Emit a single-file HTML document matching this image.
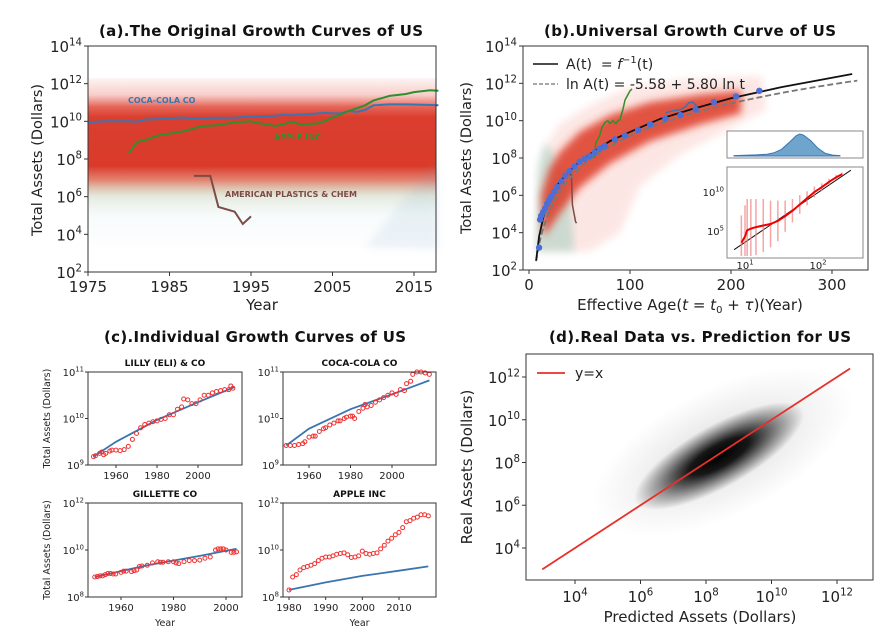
<!DOCTYPE html>
<html><head><meta charset="utf-8"><style>
html,body{margin:0;padding:0;background:#fff;}
svg{display:block;font-family:"DejaVu Sans","Liberation Sans",sans-serif;}
</style></head><body>
<svg id="fig" width="885" height="634" viewBox="0 0 885 634">
<defs>
<linearGradient id="gA" x1="0" y1="0" x2="0" y2="1">
<stop offset="0" stop-color="#e03a2a" stop-opacity="0.05"/>
<stop offset="0.1" stop-color="#e03a2a" stop-opacity="0.25"/>
<stop offset="0.17" stop-color="#dc3222" stop-opacity="0.75"/>
<stop offset="0.23" stop-color="#d8301f" stop-opacity="0.93"/>
<stop offset="0.52" stop-color="#d8301f" stop-opacity="0.95"/>
<stop offset="0.6" stop-color="#d84a30" stop-opacity="0.7"/>
<stop offset="0.7" stop-color="#a8b890" stop-opacity="0.3"/>
<stop offset="0.82" stop-color="#bfe0e0" stop-opacity="0.12"/>
<stop offset="1" stop-color="#dde" stop-opacity="0.04"/>
</linearGradient>
<radialGradient id="gD">
<stop offset="0" stop-color="#000" stop-opacity="1"/>
<stop offset="0.35" stop-color="#000" stop-opacity="0.9"/>
<stop offset="0.7" stop-color="#000" stop-opacity="0.4"/>
<stop offset="1" stop-color="#000" stop-opacity="0"/>
</radialGradient>
<radialGradient id="gD2">
<stop offset="0" stop-color="#000" stop-opacity="0.14"/>
<stop offset="1" stop-color="#000" stop-opacity="0"/>
</radialGradient>
<radialGradient id="gI">
<stop offset="0" stop-color="#555" stop-opacity="1"/>
<stop offset="0.6" stop-color="#777" stop-opacity="0.7"/>
<stop offset="1" stop-color="#aaa" stop-opacity="0"/>
</radialGradient>
<filter id="blur2"><feGaussianBlur stdDeviation="2"/></filter>
<filter id="blur4"><feGaussianBlur stdDeviation="4"/></filter>
</defs>
</svg>
<script>
// ---------- DATA ----------
const cokeYears=[1975,1977,1980,1981,1982,1984,1986,1987,1988,1990,1993,1995,1998,1999,2000,2002,2004,2005,2006,2007,2008,2009,2010,2012,2014,2016,2018];
const cokeVals=[9.95,10.0,10.0,9.98,10.1,10.12,10.2,10.2,10.15,10.18,10.2,10.25,10.3,10.35,10.32,10.38,10.45,10.42,10.42,10.55,10.5,10.6,10.85,10.9,10.9,10.88,10.85];
const appleYears=[1980,1981,1982,1984,1985,1987,1989,1991,1993,1995,1996,1998,1999,2000,2001,2003,2004,2005,2007,2009,2010,2012,2014,2015,2017,2018];
const appleVals=[8.3,8.9,9.0,9.3,9.35,9.5,9.75,9.8,9.95,10.0,9.9,9.75,9.85,9.98,9.85,9.88,10.0,10.2,10.55,10.85,11.1,11.35,11.45,11.55,11.65,11.62];
const plastYears=[1988,1990,1991,1993,1994,1995];
const plastVals=[7.1,7.1,5.45,5.2,4.55,4.95];
const bCurveT=[7,10,15,20,30,40,50,60,80,100,130,160,200,250,320];
const bCurveV=[2.5,3.8,5.0,5.8,6.7,7.3,7.8,8.2,8.9,9.4,10.1,10.6,11.2,11.8,12.5];
const bFitA=-5.58, bFitB=5.80;
const bDotT=[10,11,12,14,16,18,20,22,25,28,32,36,40,45,50,55,60,65,70,75,85,95,108,120,135,150,165,183,205,228];
const bDotV=[3.2,4.7,4.9,5.1,5.3,5.55,5.75,5.95,6.2,6.45,6.75,7.05,7.3,7.55,7.8,7.95,8.1,8.3,8.5,8.65,9.0,9.2,9.5,9.8,10.1,10.3,10.6,11.0,11.3,11.6];
const bGreenT=[65,66,68,70,72,75,78,80,83,86,88,90,93,95,98,100,102];
const bGreenV=[8.0,8.8,9.0,9.2,9.6,9.9,10.0,9.85,10.0,9.85,10.0,10.05,10.6,11.1,11.4,11.6,11.7];
const bBlueT=[135,140,145,150,155,158,162,165,167];
const bBlueV=[10.4,10.5,10.55,10.6,10.75,10.95,11.0,10.85,10.7];
const bBrownT=[40,42,43,44,45,46,47];
const bBrownV=[7.1,7.1,5.5,5.2,4.9,4.6,4.5];
const histX=[0.85,1.0,1.15,1.3,1.4,1.5,1.6,1.7,1.75,1.8,1.9,2.0,2.1,2.2,2.3];
const histY=[0.02,0.03,0.05,0.08,0.15,0.3,0.6,0.92,1.0,0.95,0.7,0.35,0.12,0.04,0.02];
const inLogT=[0.95,1.0,1.03,1.08,1.15,1.25,1.35,1.45,1.55,1.65,1.75,1.85,1.95,2.05,2.15,2.25,2.33];
const inLogA=[3.5,4.3,5.1,5.3,5.5,5.7,5.9,6.3,6.9,7.6,8.4,9.2,10.0,10.6,11.3,11.9,12.3];
const inErr=[3.5,4,4,3.8,3.6,3.4,3.0,2.6,2.0,1.5,1.2,0.9,0.7,0.5,0.4,0.3,0.2];
const lillyYears=[1949,1950,1952,1953,1954,1955,1957,1958,1960,1962,1964,1966,1968,1970,1972,1974,1976,1978,1980,1982,1984,1986,1988,1990,1992,1993,1995,1997,1999,2001,2003,2005,2007,2009,2011,2013,2015,2016,2017];
const lillyVals=[9.18,9.2,9.25,9.28,9.22,9.25,9.3,9.32,9.32,9.31,9.33,9.4,9.55,9.68,9.8,9.87,9.9,9.93,9.95,9.98,10.0,10.08,10.08,10.2,10.25,10.42,10.4,10.32,10.32,10.4,10.5,10.5,10.55,10.58,10.6,10.62,10.62,10.7,10.65];
const lillyFitY=[1949,1960,1980,2000,2018];
const lillyFitV=[9.18,9.5,9.97,10.35,10.68];
const cokeCYears=[1949,1951,1953,1955,1957,1958,1960,1962,1963,1965,1967,1968,1970,1972,1974,1975,1977,1978,1980,1981,1982,1984,1986,1987,1988,1990,1992,1994,1996,1998,2000,2002,2004,2006,2007,2009,2010,2012,2014,2016,2018];
const cokeCVals=[9.42,9.42,9.42,9.44,9.46,9.5,9.6,9.62,9.62,9.72,9.78,9.8,9.86,9.9,9.95,9.95,10.0,10.03,10.05,10.05,10.0,10.15,10.22,10.3,10.25,10.28,10.35,10.4,10.45,10.5,10.55,10.52,10.62,10.6,10.75,10.8,10.95,11.0,11.0,10.98,10.95];
const cokeFitY=[1949,1960,1980,2000,2018];
const cokeFitV=[9.42,9.78,10.2,10.52,10.82];
const gilYears=[1950,1951,1952,1953,1954,1955,1956,1957,1958,1960,1961,1962,1964,1965,1966,1967,1968,1970,1972,1974,1975,1976,1978,1980,1981,1982,1984,1986,1988,1990,1992,1994,1996,1997,1998,1999,2000,2002,2003,2004];
const gilVals=[8.85,8.87,8.9,8.9,8.95,9.0,9.0,8.98,8.98,9.05,9.1,9.1,9.08,9.12,9.15,9.3,9.32,9.35,9.45,9.5,9.48,9.48,9.5,9.5,9.45,9.42,9.5,9.55,9.55,9.57,9.65,9.7,10.0,10.05,10.05,10.05,10.0,9.9,9.9,9.92];
const gilFitY=[1950,1970,1990,2004];
const gilFitV=[8.85,9.35,9.75,10.05];
const appCYears=[1980,1981,1982,1983,1984,1985,1986,1987,1988,1989,1990,1991,1992,1993,1994,1995,1996,1997,1998,1999,2000,2001,2002,2003,2004,2005,2006,2007,2008,2009,2010,2011,2012,2013,2014,2015,2016,2017,2018];
const appCVals=[8.3,8.85,8.95,9.15,9.25,9.3,9.35,9.42,9.55,9.65,9.7,9.7,9.75,9.82,9.85,9.88,9.8,9.68,9.7,9.75,9.95,9.85,9.82,9.85,9.88,10.05,10.2,10.38,10.5,10.65,10.75,10.95,11.2,11.25,11.35,11.4,11.5,11.5,11.45];
const appFitY=[1980,1990,2000,2010,2018];
const appFitV=[8.3,8.62,8.9,9.12,9.3];
const dLineX=[3,12.4];

// ---------- HELPERS ----------
const NS='http://www.w3.org/2000/svg';
const svg=document.getElementById('fig');
function mk(parent,tag,attrs){const e=document.createElementNS(NS,tag);for(const k in attrs)e.setAttribute(k,attrs[k]);parent.appendChild(e);return e;}
function lin(d0,d1,p0,p1){return v=>p0+(v-d0)*(p1-p0)/(d1-d0);}
function pathFrom(xs,ys,X,Y){return xs.map((x,i)=>(i?'L':'M')+X(x).toFixed(1)+','+Y(ys[i]).toFixed(1)).join('');}
function powLabel(g,x,y,exp,fs,anchor,name){
  const t=mk(g,'text',{x:x,y:y,'font-size':fs,'text-anchor':anchor,fill:'#222'});
  
  
  t.appendChild(document.createTextNode('10'));
  const s=mk(t,'tspan',{dy:-fs*0.45,'font-size':fs*0.68});
  s.textContent=exp;
  return t;
}
function txt(g,x,y,s,fs,attrs){const t=mk(g,'text',Object.assign({x:x,y:y,'font-size':fs,fill:'#222'},attrs||{}));t.textContent=s;return t;}
function frame(g,x0,y0,x1,y1){return mk(g,'rect',{x:x0,y:y0,width:x1-x0,height:y1-y0,fill:'none',stroke:'#333','stroke-width':1});}

// ================= PANEL A =================
{
const g=mk(svg,'g',{});


const X=lin(1975,2015,88,414), Y=lin(2,14,272,46);
const t=txt(g,261,36,'(a).The Original Growth Curves of US',15,{'font-weight':'bold','text-anchor':'middle',textLength:324,fill:'#111'});


const cloud=mk(g,'rect',{x:88,y:Y(12.3),width:348,height:Y(3.3)-Y(12.3),fill:'url(#gA)'});


const cloud2=mk(g,'path',{d:`M${X(2009)},${Y(3.3)}L${X(2018)},${Y(3.2)}L${X(2018)},${Y(8)}L${X(2014)},${Y(6)}Z`,fill:'#7aa6c8',opacity:0.12,filter:'url(#blur4)'});


const c=mk(g,'path',{d:pathFrom(cokeYears,cokeVals,X,Y),fill:'none',stroke:'#3a75b0','stroke-width':2});


const a=mk(g,'path',{d:pathFrom(appleYears,appleVals,X,Y),fill:'none',stroke:'#2f8f2f','stroke-width':2});


const p=mk(g,'path',{d:pathFrom(plastYears,plastVals,X,Y),fill:'none',stroke:'#7b4b45','stroke-width':2});


const l1=txt(g,128,103,'COCA-COLA CO',8,{'font-weight':'bold',fill:'#3a75b0'});


const l2=txt(g,274,140,'APPLE INC',8,{'font-weight':'bold',fill:'#2f8f2f'});


const l3=txt(g,225,197,'AMERICAN PLASTICS & CHEM',8,{'font-weight':'bold',fill:'#7b4b45'});


const f=frame(g,88,46,436,272);


for(let e=2;e<=14;e+=2){
  const tk=mk(g,'line',{x1:84,x2:88,y1:Y(e),y2:Y(e),stroke:'#333'});
  
  
  powLabel(g,82,Y(e)+6,String(e),15,'end','y-tick-label');
}
for(let yr=1975;yr<=2015;yr+=10){
  const tk=mk(g,'line',{x1:X(yr),x2:X(yr),y1:272,y2:276,stroke:'#333'});
  
  
  const tl=txt(g,X(yr),292,String(yr),15,{'text-anchor':'middle'});
  
  
}
const xt=txt(g,262,310,'Year',15,{'text-anchor':'middle'});


const yt=txt(g,0,0,'Total Assets (Dollars)',14.5,{'text-anchor':'middle',transform:'translate(42,160) rotate(-90)'});


}

// ================= PANEL B =================
{
const g=mk(svg,'g',{});


const X=lin(0,300,529,832), Y=lin(2,14,270,46);
const t=txt(g,690,36,'(b).Universal Growth Curve of US',15,{'font-weight':'bold','text-anchor':'middle',textLength:292,fill:'#111'});


const outer=[[8,3],[10,7],[15,8.5],[30,9.8],[60,10.8],[100,11.8],[150,12.2],[230,12.4],[235,10.6],[200,9.6],[150,8.2],[110,6.5],[90,4],[60,3]];
const op=mk(g,'path',{d:'M'+outer.map(p=>X(p[0])+','+Y(p[1])).join('L')+'Z',fill:'#ef7a6a',opacity:0.18,filter:'url(#blur4)'});


const teal=[[7,3],[9,7.5],[15,8.8],[25,8.2],[35,7],[42,5],[45,3]];
const tp=mk(g,'path',{d:'M'+teal.map(p=>X(p[0])+','+Y(p[1])).join('L')+'Z',fill:'#86c7b4',opacity:0.4,filter:'url(#blur4)'});


const core=[[12,6],[20,7.4],[30,8.3],[50,9.4],[80,10.3],[120,11.0],[170,11.4],[210,11.6],[210,10.4],[170,9.8],[120,8.9],[80,7.7],[50,6.4],[30,5.0],[20,4.2],[14,3.8]];
const cp=mk(g,'path',{d:'M'+core.map(p=>X(p[0])+','+Y(p[1])).join('L')+'Z',fill:'#de3a28',opacity:0.85,filter:'url(#blur4)'});


const gl=mk(g,'path',{d:pathFrom(bGreenT,bGreenV,X,Y),fill:'none',stroke:'#2f8f2f','stroke-width':1.5});


const bl=mk(g,'path',{d:pathFrom(bBlueT,bBlueV,X,Y),fill:'none',stroke:'#3a75b0','stroke-width':1.5});


const br=mk(g,'path',{d:pathFrom(bBrownT,bBrownV,X,Y),fill:'none',stroke:'#7b4b45','stroke-width':1.5});


const ft=[];for(let tt=7;tt<=325;tt+=3)ft.push(tt);
const fv=ft.map(tt=>(bFitA+bFitB*Math.log(tt))/Math.LN10);
const dl=mk(g,'path',{d:pathFrom(ft,fv,X,Y),fill:'none',stroke:'#777','stroke-width':1.8,'stroke-dasharray':'6,3'});


const ml=mk(g,'path',{d:pathFrom(bCurveT,bCurveV,X,Y),fill:'none',stroke:'#111','stroke-width':1.8});


bDotT.forEach((tt,i)=>{
  const d=mk(g,'circle',{cx:X(tt),cy:Y(bDotV[i]),r:3.2,fill:'#4a6fd6'});
  
  
});
const f=frame(g,523,46,868,270);


const lg=mk(g,'g',{});


const ll1=mk(lg,'line',{x1:533,x2:558,y1:64,y2:64,stroke:'#111','stroke-width':1.5});


const lt1=txt(lg,566,69,'',14,{});


lt1.innerHTML='A(t) &#160;= <tspan font-style="italic">f</tspan><tspan dy="-6" font-size="10">−1</tspan><tspan dy="6">(t)</tspan>';
const ll2=mk(lg,'line',{x1:533,x2:558,y1:84,y2:84,stroke:'#888','stroke-width':1.5,'stroke-dasharray':'4,2'});


const lt2=txt(lg,566,89,'ln A(t) = -5.58 + 5.80 ln t',14,{});


for(let e=2;e<=14;e+=2){
  const tk=mk(g,'line',{x1:519,x2:523,y1:Y(e),y2:Y(e),stroke:'#333'});
  
  
  powLabel(g,517,Y(e)+6,String(e),15,'end','y-tick-label');
}
for(let v=0;v<=300;v+=100){
  const tk=mk(g,'line',{x1:X(v),x2:X(v),y1:270,y2:274,stroke:'#333'});
  
  
  const tl=txt(g,X(v),290,String(v),15,{'text-anchor':'middle'});
  
  
}
const xt=txt(g,690,310,'',15,{'text-anchor':'middle'});


xt.innerHTML='Effective Age(<tspan font-style="italic">t</tspan> = <tspan font-style="italic">t</tspan><tspan font-size="10" dy="3">0</tspan><tspan dy="-3"> + </tspan><tspan font-style="italic">τ</tspan>)(Year)';
const yt=txt(g,0,0,'Total Assets (Dollars)',14.5,{'text-anchor':'middle',transform:'translate(471,158) rotate(-90)'});


const ih=mk(g,'g',{});


const ir=mk(ih,'rect',{x:727,y:131,width:136,height:27,fill:'#fff',stroke:'#888'});


const HX=lin(1,2,745,818), HY=lin(0,1,156,134);
const hp=mk(ih,'path',{d:pathFrom(histX,histY,HX,HY)+`L${HX(histX[histX.length-1])},156L${HX(histX[0])},156Z`,fill:'#6fa4cc',stroke:'#3a75b0','stroke-width':1});


const is=mk(g,'g',{});


const ir2=mk(is,'rect',{x:727,y:167,width:136,height:91,fill:'#fff',stroke:'#888'});


const IX=lin(1,2,745,818), IY=lin(5,10,231,192);
const isx=73, isy=7.8;
const icg=mk(is,'g',{transform:`matrix(${isx},0,0,${-isy},${745-isx},${231+5*isy})`});


const ie=mk(icg,'ellipse',{cx:1.8,cy:8.5,rx:0.55,ry:2.6,fill:'url(#gI)',transform:'matrix(1,0,6.4,1,0,0) translate(-1.33,0)'});


const il=mk(is,'line',{x1:IX(0.85),y1:IY(2.6),x2:IX(2.45),y2:IY(12.8),stroke:'#111','stroke-width':1});


inLogT.forEach((lt,i)=>{
  const eb=mk(is,'line',{x1:IX(lt),x2:IX(lt),y1:Math.min(256,IY(inLogA[i]-inErr[i])),y2:IY(inLogA[i]+inErr[i]),stroke:'#f08080','stroke-width':1.5,opacity:0.7});
  
  
});
const ipl=mk(is,'path',{d:pathFrom(inLogT,inLogA,IX,IY),fill:'none',stroke:'#e00','stroke-width':2});


powLabel(is,IX(1),269,'1',10,'middle','inset-x-tick-label');
powLabel(is,IX(2),269,'2',10,'middle','inset-x-tick-label');
powLabel(is,724,IY(10)+4,'10',10,'end','inset-y-tick-label');
powLabel(is,724,IY(5)+4,'5',10,'end','inset-y-tick-label');
}

// ================= PANEL C =================
{
const g=mk(svg,'g',{});


const t=txt(g,255,342,'(c).Individual Growth Curves of US',15,{'font-weight':'bold','text-anchor':'middle',textLength:302,fill:'#111'});


const subs=[
 {name:'lilly',title:'LILLY (ELI) & CO',x0:88,x1:242,y0:372,y1:465,xr:[1960,2000,116,198],yr:[9,11],yt:[9,10,11],xt:[1960,1980,2000],ys:lillyYears,vs:lillyVals,fy:lillyFitY,fv:lillyFitV,ylab:true,xlab:false},
 {name:'coca-cola',title:'COCA-COLA CO',x0:283,x1:436,y0:372,y1:465,xr:[1960,2000,309,392],yr:[9,11],yt:[9,10,11],xt:[1960,1980,2000],ys:cokeCYears,vs:cokeCVals,fy:cokeFitY,fv:cokeFitV,ylab:false,xlab:false},
 {name:'gillette',title:'GILLETTE CO',x0:88,x1:242,y0:503,y1:597,xr:[1960,2000,121,226],yr:[8,12],yt:[8,10,12],xt:[1960,1980,2000],ys:gilYears,vs:gilVals,fy:gilFitY,fv:gilFitV,ylab:true,xlab:true},
 {name:'apple',title:'APPLE INC',x0:283,x1:436,y0:503,y1:597,xr:[1980,2010,289,399],yr:[8,12],yt:[8,10,12],xt:[1980,1990,2000,2010],ys:appCYears,vs:appCVals,fy:appFitY,fv:appFitV,ylab:false,xlab:true}
];
subs.forEach(s=>{
  const sg=mk(g,'g',{});
  
  
  const X=lin(s.xr[0],s.xr[1],s.xr[2],s.xr[3]), Y=lin(s.yr[0],s.yr[1],s.y1,s.y0);
  const st=txt(sg,(s.x0+s.x1)/2,s.y0-6,s.title,9,{'font-weight':'bold','text-anchor':'middle',fill:'#111'});
  
  
  const fl=mk(sg,'path',{d:pathFrom(s.fy,s.fv,X,Y),fill:'none',stroke:'#3a75b0','stroke-width':1.8});
  
  
  s.ys.forEach((yr,i)=>{
    const c=mk(sg,'circle',{cx:X(yr),cy:Y(s.vs[i]),r:2,fill:'none',stroke:'#f03030','stroke-width':1});
    
    
  });
  const f=frame(sg,s.x0,s.y0,s.x1,s.y1);
  
  
  s.yt.forEach(e=>{
    const tk=mk(sg,'line',{x1:s.x0-3,x2:s.x0,y1:Y(e),y2:Y(e),stroke:'#333'});
    
    
    powLabel(sg,s.x0-4,Y(e)+4,String(e),10,'end','y-tick-label');
  });
  s.xt.forEach(v=>{
    const tk=mk(sg,'line',{x1:X(v),x2:X(v),y1:s.y1,y2:s.y1+3,stroke:'#333'});
    
    
    const tl=txt(sg,X(v),s.y1+14,String(v),10,{'text-anchor':'middle'});
    
    
  });
  if(s.ylab){
    const yl=txt(sg,0,0,'Total Assets (Dollars)',9.5,{'text-anchor':'middle',transform:`translate(50,${(s.y0+s.y1)/2}) rotate(-90)`});
    
    
  }
  if(s.xlab){
    const xl=txt(sg,(s.x0+s.x1)/2,626,'Year',9.5,{'text-anchor':'middle'});
    
    
  }
});
}

// ================= PANEL D =================
{
const g=mk(svg,'g',{});


const X=lin(4,12,575,837), Y=lin(4,12,548,377);
const t=txt(g,700,342,'(d).Real Data vs. Prediction for US',15,{'font-weight':'bold','text-anchor':'middle',textLength:302,fill:'#111'});


const sx=(837-575)/8, sy=(548-377)/8;
const cg=mk(g,'g',{transform:`matrix(${sx},0,0,${-sy},${575-4*sx},${548+4*sy})`});


const e1=mk(cg,'ellipse',{cx:8.5,cy:8.5,rx:5.0,ry:2.6,fill:'url(#gD2)',transform:'rotate(45 8.5 8.5)'});


const e2=mk(cg,'ellipse',{cx:8.4,cy:8.3,rx:3.4,ry:1.25,fill:'url(#gD)',transform:'rotate(44 8.4 8.3)'});


const rl=mk(g,'line',{x1:X(dLineX[0]),y1:Y(dLineX[0]),x2:X(dLineX[1]),y2:Y(dLineX[1]),stroke:'#e8302a','stroke-width':1.8});


const f=frame(g,526,354,873,580);


const ls=mk(g,'line',{x1:537,x2:565,y1:373,y2:373,stroke:'#e8302a','stroke-width':1.8});


const lt=txt(g,575,378,'y=x',14,{});


for(let e=4;e<=12;e+=2){
  const tk=mk(g,'line',{x1:522,x2:526,y1:Y(e),y2:Y(e),stroke:'#333'});
  
  
  powLabel(g,520,Y(e)+6,String(e),15,'end','y-tick-label');
  const tx=mk(g,'line',{x1:X(e),x2:X(e),y1:580,y2:584,stroke:'#333'});
  
  
  powLabel(g,X(e),602,String(e),15,'middle','x-tick-label');
}
const xt=txt(g,700,622,'Predicted Assets (Dollars)',15,{'text-anchor':'middle'});


const yt=txt(g,0,0,'Real Assets (Dollars)',15,{'text-anchor':'middle',transform:'translate(472,467) rotate(-90)'});


}
</script>
</body></html>
